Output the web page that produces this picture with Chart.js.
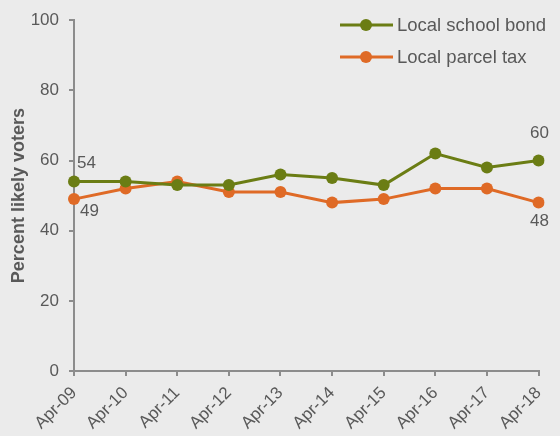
<!DOCTYPE html>
<html>
<head>
<meta charset="utf-8">
<title>Local school bond and parcel tax support</title>
<script src="https://cdn.jsdelivr.net/npm/chart.js@4"></script>
<style>
    body { margin: 0; background: #ebebeb; }
    .chart-box { position: relative; width: 560px; height: 436px; }
</style>
</head>
<body>
<div class="chart-box">
    <canvas id="votersGraph"></canvas>
</div>
<script>
//globals
const years = ['Apr-09', 'Apr-10', 'Apr-11', 'Apr-12', 'Apr-13', 'Apr-14', 'Apr-15', 'Apr-16', 'Apr-17', 'Apr-18'];
const schoolBond = [54, 54, 53, 53, 56, 55, 53, 62, 58, 60];
const parcelTax = [49, 52, 54, 51, 51, 48, 49, 52, 52, 48];
const yTicks = [0, 20, 40, 60, 80, 100];

const textColor = '#595959';
const axisColor = '#8c8c8c';
const fontFamily = '"Liberation Sans", Arial, sans-serif';

//====================
//====PLUGINS========
//====================

// value labels next to the first and last points
const valueLabels = {
    id: 'valueLabels',
    afterDatasetsDraw(chart, args, opts) {
        const ctx = chart.ctx;
        ctx.save();
        ctx.fillStyle = textColor;
        ctx.font = `17px ${fontFamily}`;
        ctx.textBaseline = 'middle';
        opts.items.forEach((item) => {
            const point = chart.getDatasetMeta(item.ds).data[item.index];
            const value = chart.data.datasets[item.ds].data[item.index];
            ctx.textAlign = item.align;
            ctx.fillText(value, point.x + item.dx, point.y + item.dy);
        });
        ctx.restore();
    }
};

// legend drawn inside the plot, line through a dot
const lineLegend = {
    id: 'lineLegend',
    afterDatasetsDraw(chart, args, opts) {
        const ctx = chart.ctx;
        ctx.save();
        ctx.font = `18.5px ${fontFamily}`;
        ctx.textBaseline = 'middle';
        ctx.textAlign = 'left';
        chart.data.datasets.forEach((ds, i) => {
            const y = opts.y + i * opts.gap;
            ctx.strokeStyle = ds.borderColor;
            ctx.lineWidth = 3;
            ctx.beginPath();
            ctx.moveTo(opts.x, y);
            ctx.lineTo(opts.x + 53, y);
            ctx.stroke();
            ctx.fillStyle = ds.borderColor;
            ctx.beginPath();
            ctx.arc(opts.x + 26, y, 6, 0, Math.PI * 2);
            ctx.fill();
            ctx.fillStyle = textColor;
            ctx.fillText(ds.label, opts.x + 57, y + 1);
        });
        ctx.restore();
    }
};

//====================
//====CREATE GRAPH========
//====================

function createGraph() {
    const ctx = document.getElementById('votersGraph');

    new Chart(ctx, {
        type: 'line',
        data: {
            labels: years,
            datasets: [{
                label: 'Local school bond',
                data: schoolBond,
                borderColor: '#6b7d14',
                backgroundColor: '#6b7d14',
                borderWidth: 3,
                pointRadius: 6,
                pointBorderWidth: 0
            },
            {
                label: 'Local parcel tax',
                data: parcelTax,
                borderColor: '#df6a26',
                backgroundColor: '#df6a26',
                borderWidth: 3,
                pointRadius: 6,
                pointBorderWidth: 0
            }]
        },
        options: {
            responsive: true,
            maintainAspectRatio: false,
            animation: false,
            layout: {
                padding: { top: 19, right: 14, left: 0, bottom: 0 }
            },
            plugins: {
                legend: { display: false },
                tooltip: { enabled: false },
                valueLabels: {
                    items: [
                        { ds: 0, index: 0, dx: 3, dy: -18, align: 'left' },
                        { ds: 1, index: 0, dx: 6, dy: 12, align: 'left' },
                        { ds: 0, index: 9, dx: 1, dy: -27, align: 'center' },
                        { ds: 1, index: 9, dx: 1, dy: 19, align: 'center' }
                    ]
                },
                lineLegend: { x: 340, y: 25, gap: 32 }
            },
            scales: {
                x: {
                    offset: false,
                    afterFit(scale) { scale.height = 65; },
                    grid: {
                        drawOnChartArea: false,
                        color: axisColor,
                        tickLength: 5,
                        lineWidth: 2
                    },
                    border: { color: axisColor, width: 2 },
                    ticks: {
                        color: textColor,
                        font: { family: fontFamily, size: 17 },
                        minRotation: 45,
                        maxRotation: 45,
                        padding: 7
                    }
                },
                y: {
                    min: 0,
                    max: 100,
                    afterFit(scale) { scale.width = 74; },
                    afterBuildTicks(scale) {
                        scale.ticks = yTicks.map(v => ({ value: v }));
                    },
                    grid: {
                        drawOnChartArea: false,
                        color: axisColor,
                        tickLength: 5,
                        lineWidth: 2
                    },
                    border: { color: axisColor, width: 2 },
                    ticks: {
                        color: textColor,
                        font: { family: fontFamily, size: 17 },
                        padding: 10
                    },
                    title: {
                        display: true,
                        text: 'Percent likely voters',
                        color: textColor,
                        font: { family: fontFamily, size: 18, weight: 'bold' },
                        padding: { top: 8, bottom: 0 }
                    }
                }
            }
        },
        plugins: [valueLabels, lineLegend]
    });
}

document.addEventListener('DOMContentLoaded', () => {
    createGraph();
});
</script>
</body>
</html>
